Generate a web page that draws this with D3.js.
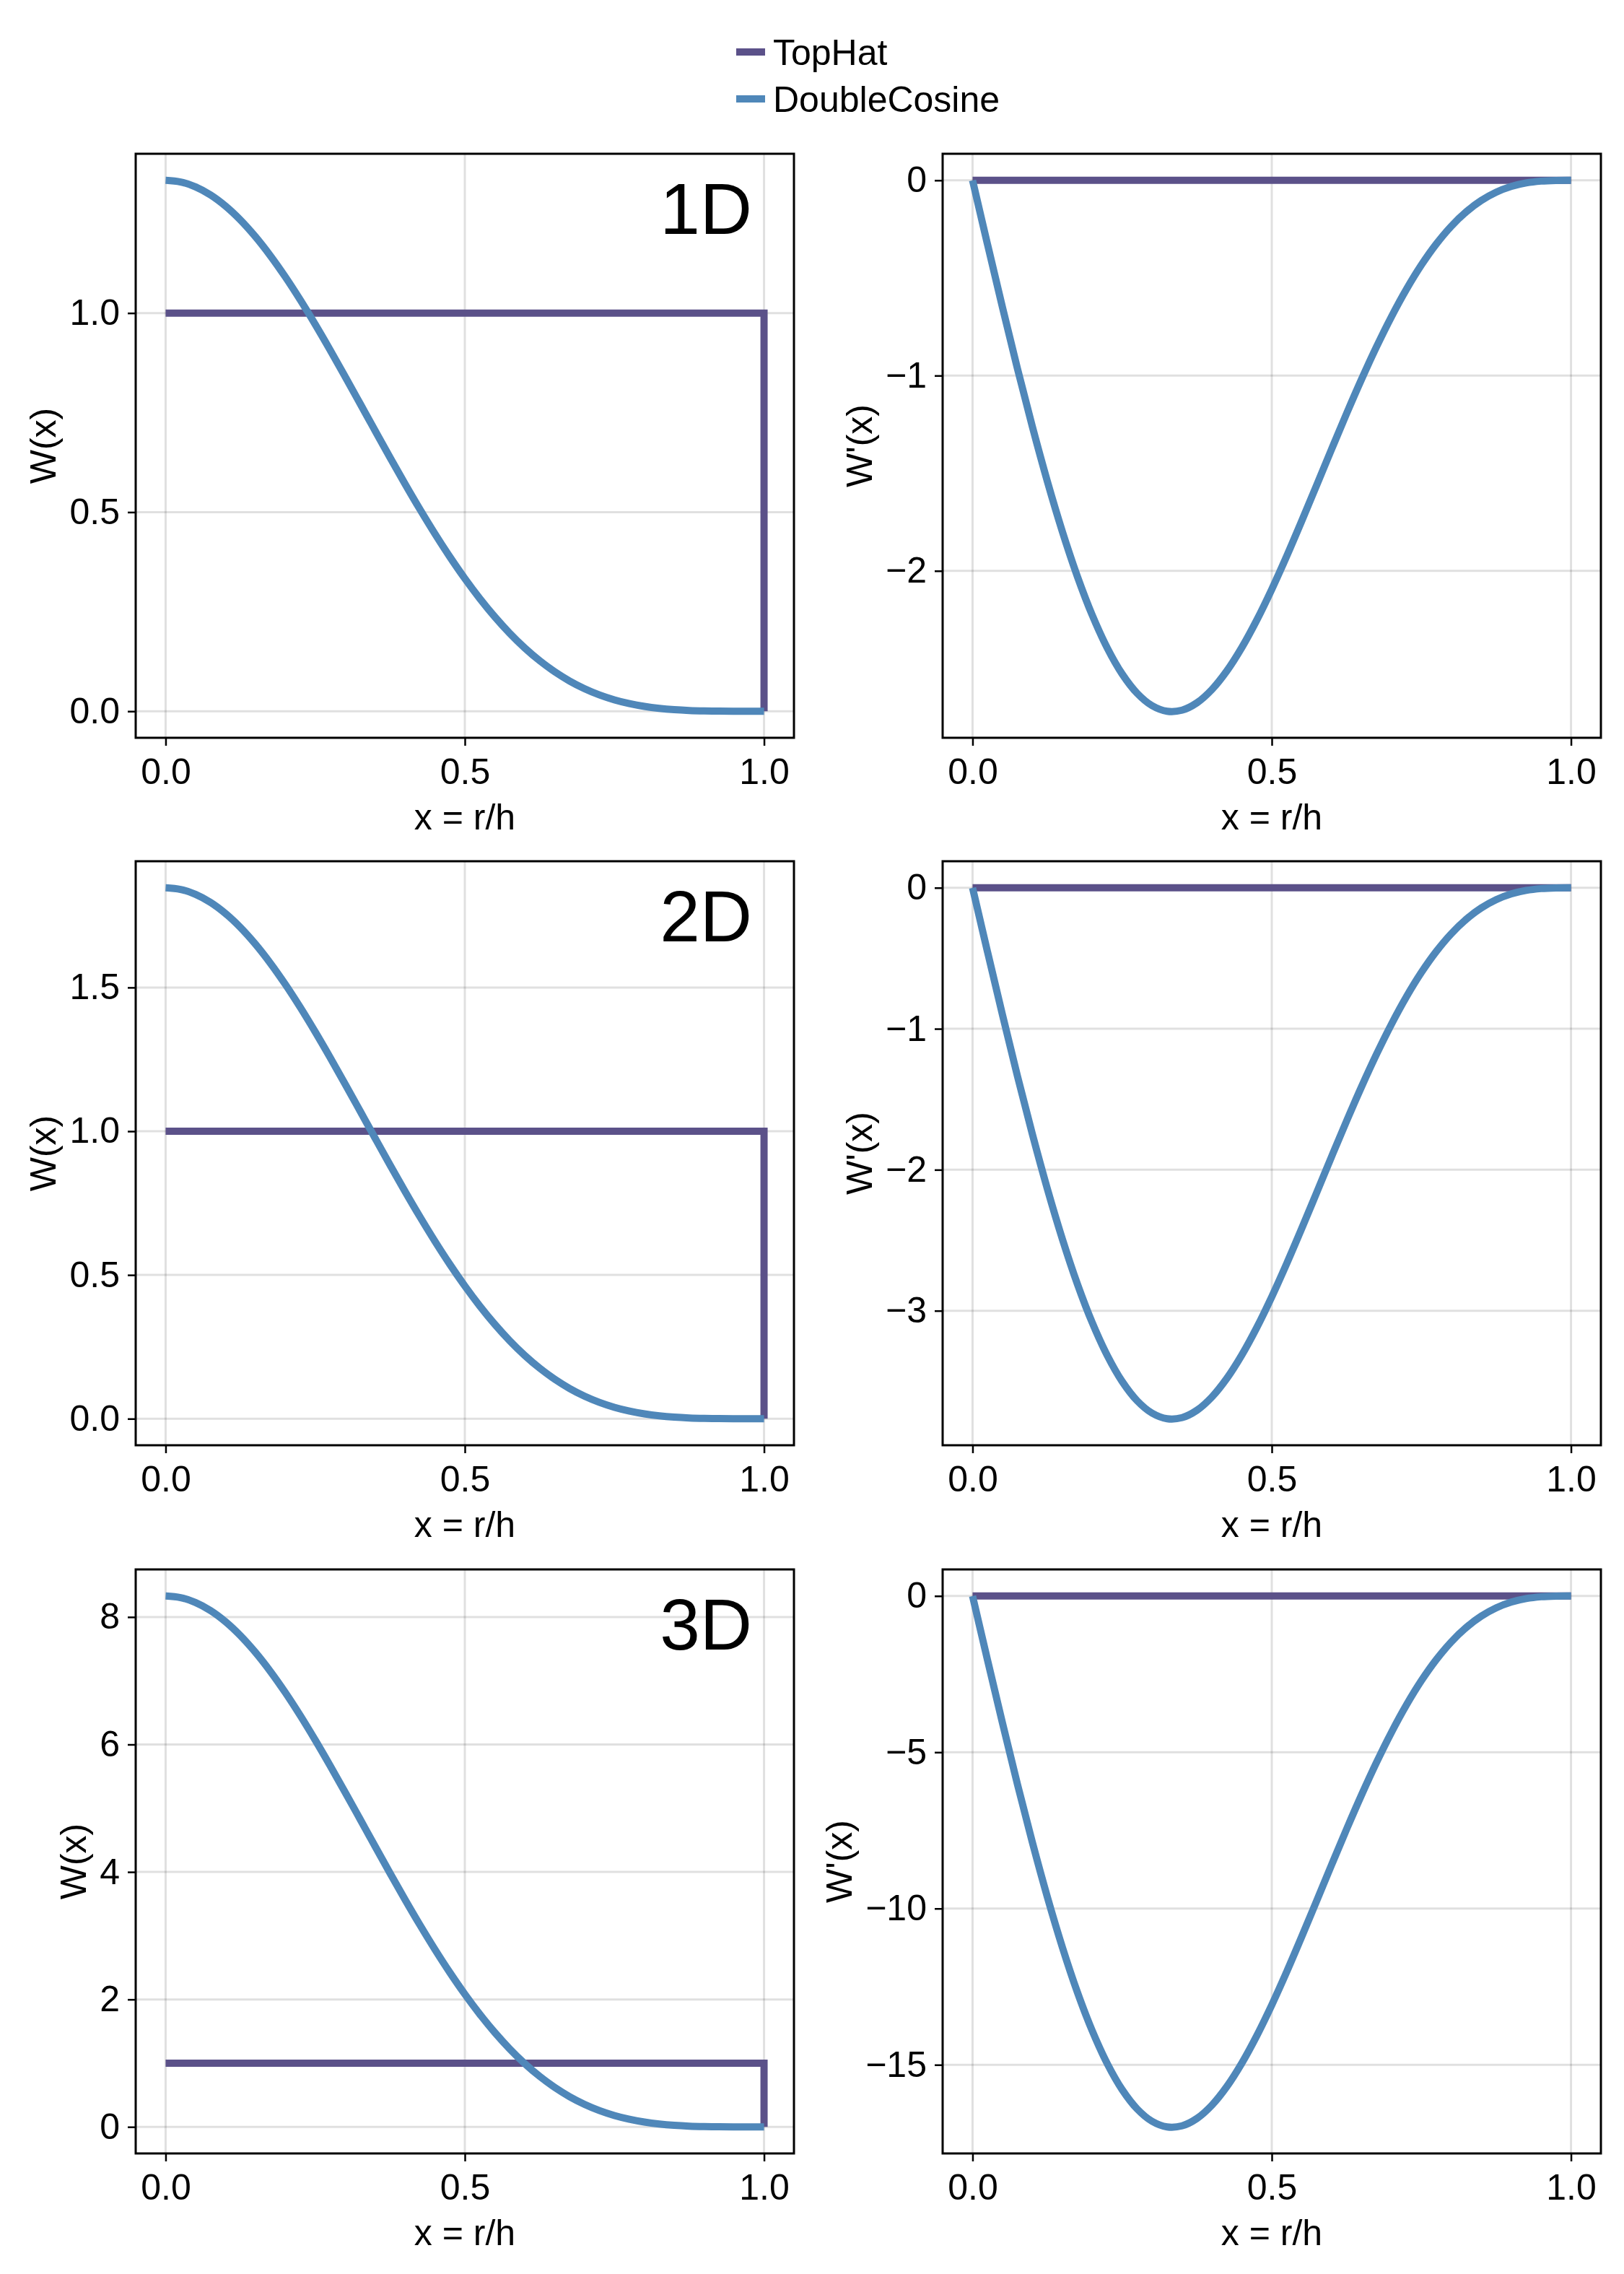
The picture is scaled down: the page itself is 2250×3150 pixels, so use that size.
<!DOCTYPE html>
<html>
<head>
<meta charset="utf-8">
<script src="https://cdn.jsdelivr.net/npm/d3@7"></script>
<style>
  html, body { margin: 0; padding: 0; background: #ffffff; }
  svg { display: block; }
  text { font-family: "Liberation Sans", Arial, Helvetica, sans-serif; fill: #000; }
</style>
</head>
<body>
<svg id="chart" width="2250" height="3150"></svg>
<script>
// ---------------- DATA ----------------
const seriesNames = ["TopHat", "DoubleCosine"];
const dimLabels = ["1D", "2D", "3D"];

const xSamples = [0, 0.025, 0.05, 0.075, 0.1, 0.125, 0.15, 0.175, 0.2, 0.225, 0.25, 0.275, 0.3, 0.325, 0.35, 0.375, 0.4,
  0.425, 0.45, 0.475, 0.5, 0.525, 0.55, 0.575, 0.6, 0.625, 0.65, 0.675, 0.7, 0.725, 0.75, 0.775, 0.8, 0.825, 0.85,
  0.875, 0.9, 0.925, 0.95, 0.975, 1.0];

// TopHat kernel (value, and derivative)
const topHatX = [0.0, 1.0, 1.0];
const topHatW = [1.0, 1.0, 0.0];
const topHatDX = [0.0, 1.0];
const topHatDW = [0.0, 0.0];

// DoubleCosine kernel W(x)
const doubleCosW1D = [1.33333, 1.32923, 1.31697, 1.29675, 1.26887, 1.23377, 1.19197, 1.14409, 1.09085, 1.03301, 0.97140,
  0.90689, 0.84035, 0.77267, 0.70470, 0.63727, 0.57118, 0.50713, 0.44578, 0.38769, 0.33333, 0.28308, 0.23720, 0.19587,
  0.15915, 0.12703, 0.09938, 0.07600, 0.05664, 0.04096, 0.02860, 0.01914, 0.01216, 0.00724, 0.00396, 0.00193, 0.00080,
  0.00025, 0.00005, 0.00000, 0.0];
const doubleCosW2D = [1.84681, 1.84112, 1.82414, 1.79613, 1.75753, 1.70890, 1.65100, 1.58469, 1.51094, 1.43083, 1.34550,
  1.25614, 1.16398, 1.07023, 0.97608, 0.88269, 0.79114, 0.70243, 0.61745, 0.53699, 0.46170, 0.39210, 0.32855, 0.27130,
  0.22044, 0.17595, 0.13765, 0.10527, 0.07845, 0.05674, 0.03961, 0.02650, 0.01684, 0.01003, 0.00548, 0.00268, 0.00111,
  0.00035, 0.00007, 0.00000, 0.0];
const doubleCosW3D = [8.33016, 8.30450, 8.22792, 8.10159, 7.92744, 7.70813, 7.44697, 7.14785, 6.81520, 6.45385, 6.06897,
  5.66592, 5.25021, 4.82733, 4.40267, 3.98143, 3.56849, 3.16835, 2.78506, 2.42215, 2.08254, 1.76857, 1.48194, 1.22371,
  0.99432, 0.79362, 0.62086, 0.47483, 0.35387, 0.25592, 0.17865, 0.11955, 0.07596, 0.04522, 0.02474, 0.01207, 0.00499,
  0.00159, 0.00032, 0.00002, 0.0];

// DoubleCosine kernel derivative W'(x)
const doubleCosDW1D = [0.0, -0.32814, -0.65124, -0.96434, -1.26273, -1.54197, -1.79804, -2.02738, -2.22700, -2.39451,
  -2.52816, -2.62690, -2.69035, -2.71883, -2.71332, -2.67545, -2.60742, -2.51195, -2.39221, -2.25176, -2.09440,
  -1.92412, -1.74501, -1.56111, -1.37636, -1.19449, -1.01892, -0.85271, -0.69846, -0.55829, -0.43376, -0.32590,
  -0.23511, -0.16126, -0.10363, -0.06101, -0.03168, -0.01351, -0.00403, -0.00051, 0.0];
const doubleCosDW2D = [0.0, -0.45451, -0.90203, -1.33572, -1.74902, -2.13580, -2.49048, -2.80814, -3.08464, -3.31665,
  -3.50178, -3.63854, -3.72642, -3.76587, -3.75825, -3.70582, -3.61156, -3.47932, -3.31347, -3.11893, -2.90097,
  -2.66512, -2.41703, -2.16231, -1.90641, -1.65450, -1.41132, -1.18109, -0.96744, -0.77329, -0.60081, -0.45140,
  -0.32565, -0.22336, -0.14354, -0.08450, -0.04388, -0.01871, -0.00559, -0.00070, 0.0];
const doubleCosDW3D = [0.0, -2.05010, -4.06868, -6.02485, -7.88906, -9.63364, -11.23344, -12.66629, -13.91344, -14.95996,
  -15.79498, -16.41184, -16.80826, -16.98619, -16.95180, -16.71520, -16.29014, -15.69367, -14.94562, -14.06811,
  -13.08498, -12.02118, -10.90214, -9.75322, -8.59899, -7.46271, -6.36583, -5.32738, -4.36369, -3.48796, -2.70999,
  -2.03608, -1.46887, -1.00749, -0.64747, -0.38116, -0.19790, -0.08440, -0.02520, -0.00317, 0.0];

// Tick values
const xTicks = [0.0, 0.5, 1.0];
const yTicksW = [[0.0, 0.5, 1.0], [0.0, 0.5, 1.0, 1.5], [0, 2, 4, 6, 8]];
const yTicksDW = [[0, -1, -2], [0, -1, -2, -3], [0, -5, -10, -15]];
const yTickDecimalsW = [1, 1, 0];

// ---------------- STYLE / LAYOUT ----------------
const colors = { TopHat: "#5b5189", DoubleCosine: "#4f87b9" };
const colX = [[188, 1100], [1306, 2218]];
const rowY = [213, 1193, 2174];
const panelH = 809;
const fontSize = 50;
const lineW = 10;
const tickLen = 11;

const svg = d3.select("#chart");
svg.append("rect").attr("width", 2250).attr("height", 3150).attr("fill", "#fff");

const fmtMinus = s => s.replace("-", "\u2212");

function paddedExtent(arrs) {
  const all = arrs.flat();
  const lo = d3.min(all), hi = d3.max(all);
  const pad = (hi - lo) * 0.05;
  return [lo - pad, hi + pad];
}

function drawPanel(col, row, cfg) {
  const [x0, x1] = colX[col];
  const y0 = rowY[row], y1 = y0 + panelH;
  const x = d3.scaleLinear().domain([-0.05, 1.05]).range([x0, x1]);
  const y = d3.scaleLinear().domain(paddedExtent(cfg.series.map(s => s.y))).range([y1, y0]);

  const g = svg.append("g");
  const clipId = `clip-${col}-${row}`;
  g.append("clipPath").attr("id", clipId)
    .append("rect").attr("x", x0).attr("y", y0).attr("width", x1 - x0).attr("height", panelH);

  // grid
  const grid = g.append("g").attr("stroke", "rgba(0,0,0,0.12)").attr("stroke-width", 3);
  xTicks.forEach(t => grid.append("line").attr("x1", x(t)).attr("x2", x(t)).attr("y1", y0).attr("y2", y1));
  cfg.yTicks.forEach(t => grid.append("line").attr("y1", y(t)).attr("y2", y(t)).attr("x1", x0).attr("x2", x1));

  // lines
  const plot = g.append("g").attr("clip-path", `url(#${clipId})`);
  cfg.series.forEach(s => {
    const pts = s.x.map((v, i) => [v, s.y[i]]);
    const line = d3.line().x(d => x(d[0])).y(d => y(d[1]))
      .curve(s.smooth ? d3.curveCatmullRom.alpha(0.5) : d3.curveLinear);
    plot.append("path").attr("d", line(pts)).attr("fill", "none")
      .attr("stroke", colors[s.name]).attr("stroke-width", lineW)
      .attr("stroke-linejoin", "miter").attr("stroke-linecap", "butt");
  });

  // frame
  g.append("rect").attr("x", x0).attr("y", y0).attr("width", x1 - x0).attr("height", panelH)
    .attr("fill", "none").attr("stroke", "#000").attr("stroke-width", 3);

  // axes
  const xAxis = d3.axisBottom(x).tickValues(xTicks).tickSize(tickLen).tickPadding(17).tickFormat(d3.format(".1f"));
  const gx = g.append("g").attr("transform", `translate(0,${y1})`).call(xAxis);
  const yAxis = d3.axisLeft(y).tickValues(cfg.yTicks).tickSize(tickLen).tickPadding(11)
    .tickFormat(d => fmtMinus(d3.format(`.${cfg.dec}f`)(d)));
  const gy = g.append("g").attr("transform", `translate(${x0},0)`).call(yAxis);
  [gx, gy].forEach(a => {
    a.select(".domain").remove();
    a.selectAll(".tick line").attr("stroke", "#000").attr("stroke-width", 2.5);
    a.selectAll(".tick text").attr("font-size", fontSize).attr("font-family", null).attr("fill", "#000");
  });

  // axis labels
  g.append("text").attr("x", (x0 + x1) / 2).attr("y", y1 + 127).attr("text-anchor", "middle")
    .attr("font-size", fontSize).text("x = r/h");
  const bb = gy.node().getBBox();
  const lx = x0 + bb.x - 19;
  g.append("text").attr("transform", `translate(${lx},${(y0 + y1) / 2}) rotate(-90)`)
    .attr("text-anchor", "middle").attr("font-size", fontSize).text(cfg.ylabel);

  if (cfg.tag) {
    g.append("text").attr("x", x1 - 58).attr("y", y0 + 111).attr("text-anchor", "end")
      .attr("font-size", 100).text(cfg.tag);
  }
}

const wData = [doubleCosW1D, doubleCosW2D, doubleCosW3D];
const dwData = [doubleCosDW1D, doubleCosDW2D, doubleCosDW3D];

for (let r = 0; r < 3; r++) {
  drawPanel(0, r, {
    series: [
      { name: "TopHat", x: topHatX, y: topHatW, smooth: false },
      { name: "DoubleCosine", x: xSamples, y: wData[r], smooth: true }
    ],
    yTicks: yTicksW[r], dec: yTickDecimalsW[r], ylabel: "W(x)", tag: dimLabels[r]
  });
  drawPanel(1, r, {
    series: [
      { name: "TopHat", x: topHatDX, y: topHatDW, smooth: false },
      { name: "DoubleCosine", x: xSamples, y: dwData[r], smooth: true }
    ],
    yTicks: yTicksDW[r], dec: 0, ylabel: "W'(x)", tag: null
  });
}

// legend
const leg = svg.append("g");
const legY = [72, 137];
seriesNames.forEach((n, i) => {
  leg.append("line").attr("x1", 1020).attr("x2", 1060).attr("y1", legY[i]).attr("y2", legY[i])
    .attr("stroke", colors[n]).attr("stroke-width", lineW);
  leg.append("text").attr("x", 1071).attr("y", legY[i] + 18).attr("font-size", 50).text(n);
});
</script>
</body>
</html>
